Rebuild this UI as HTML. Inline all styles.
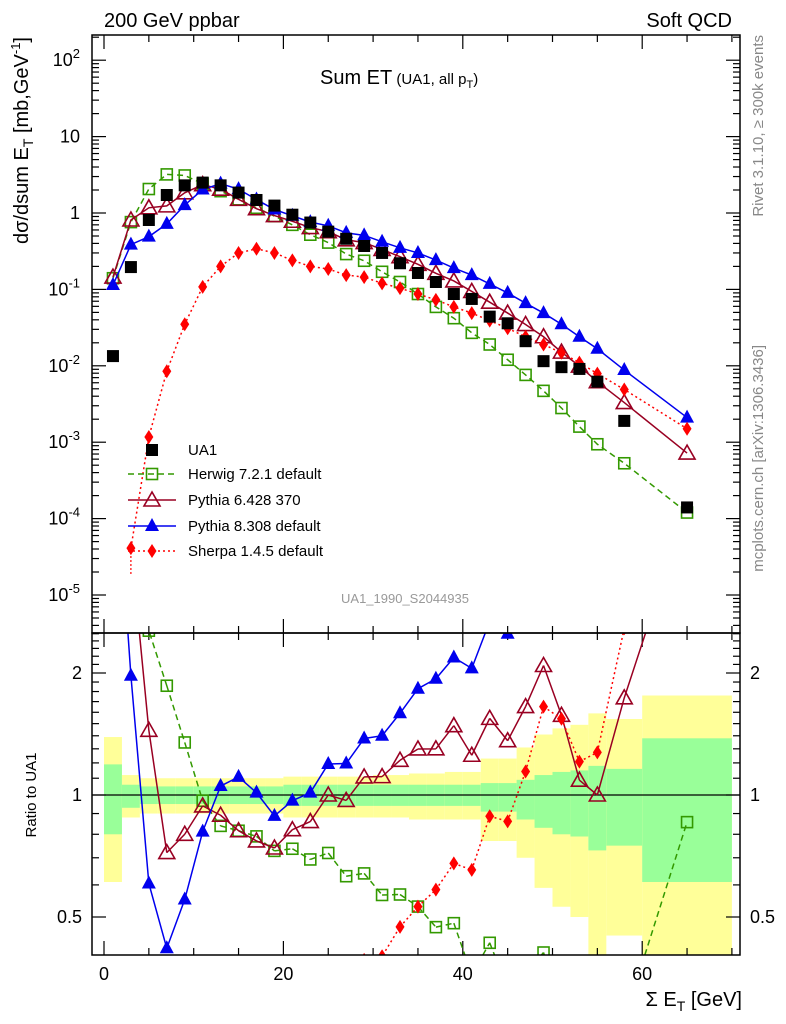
<!DOCTYPE html>
<html><head><meta charset="utf-8"><style>
html,body{margin:0;padding:0;background:#fff;width:786px;height:1024px;overflow:hidden;}
svg{display:block;font-family:"Liberation Sans",sans-serif;overflow:hidden;}
</style></head><body>
<svg id="chart" width="786" height="1024" viewBox="0 0 786 1024" xmlns="http://www.w3.org/2000/svg">
<defs>
<clipPath id="clipMain"><rect x="92" y="35" width="648" height="598"/></clipPath>
<clipPath id="clipRatio"><rect x="92" y="633" width="648" height="322"/></clipPath>
</defs>
<g id="bands" clip-path="url(#clipRatio)"></g>
<g id="ticks"></g>
<line x1="92" y1="795" x2="740" y2="795" stroke="#000" stroke-width="1.3"/>
<g id="mainMarks" clip-path="url(#clipMain)"></g>
<g id="ratioMarks" clip-path="url(#clipRatio)"></g>
<rect x="92" y="35" width="648" height="598" fill="none" stroke="#000" stroke-width="1.5"/>
<rect x="92" y="633" width="648" height="322" fill="none" stroke="#000" stroke-width="1.5"/>
<g id="labels" font-size="18"></g>
<text x="104" y="27" font-size="20">200 GeV ppbar</text>
<text x="732" y="27" font-size="20" text-anchor="end">Soft QCD</text>
<text x="320" y="84" font-size="20">Sum ET<tspan font-size="15"> (UA1, all p</tspan><tspan font-size="11" dy="4">T</tspan><tspan font-size="15" dy="-4">)</tspan></text>
<text transform="translate(28,37) rotate(-90)" font-size="20" text-anchor="end">dσ/dsum E<tspan font-size="14" dy="5">T</tspan><tspan dy="-5"> [mb,GeV</tspan><tspan font-size="13" dy="-8">-1</tspan><tspan dy="8">]</tspan></text>
<text transform="translate(36,795) rotate(-90)" font-size="15" text-anchor="middle">Ratio to UA1</text>
<text x="742" y="1006" font-size="20" text-anchor="end">Σ E<tspan font-size="14" dy="5">T</tspan><tspan dy="-5"> [GeV]</tspan></text>
<text transform="translate(763,35) rotate(-90)" font-size="15" fill="#888" text-anchor="end">Rivet 3.1.10, ≥ 300k events</text>
<text transform="translate(763,345) rotate(-90)" font-size="15" fill="#888" text-anchor="end">mcplots.cern.ch [arXiv:1306.3436]</text>
<text x="405" y="603" font-size="13" fill="#999" text-anchor="middle">UA1_1990_S2044935</text>
<line x1="130.9" y1="548" x2="130.9" y2="575" stroke="#ff0000" stroke-width="1.2" stroke-dasharray="2,2"/>
<g id="legend" font-size="15"></g>
</svg>
<script>
const xs = [1,3,5,7,9,11,13,15,17,19,21,23,25,27,29,31,33,35,37,39,41,43,45,47,49,51,53,55,58,65];
const ua1 = [0.0134,0.196,0.81,1.72,2.3,2.5,2.3,1.85,1.48,1.25,0.95,0.75,0.57,0.46,0.37,0.30,0.22,0.164,0.125,0.087,0.075,0.044,0.036,0.021,0.0115,0.0096,0.0091,0.0062,0.0019,0.00014];
const herwig = [0.14,0.76,2.06,3.2,3.1,2.42,1.93,1.51,1.17,0.91,0.70,0.52,0.41,0.29,0.237,0.17,0.125,0.087,0.059,0.042,0.027,0.019,0.012,0.0076,0.0047,0.0028,0.0016,0.00094,0.00053,0.00012];
const pythia6 = [0.145,0.81,1.17,1.24,1.84,2.35,2.05,1.51,1.14,0.925,0.78,0.645,0.57,0.446,0.41,0.333,0.268,0.213,0.1625,0.129,0.094,0.068,0.049,0.0347,0.024,0.0151,0.0099,0.0062,0.0033,0.00072];
const pythia8 = [0.114,0.386,0.49,0.72,1.27,2.03,2.42,2.05,1.5,1.11,0.92,0.76,0.68,0.55,0.51,0.42,0.35,0.30,0.242,0.19,0.154,0.118,0.090,0.066,0.049,0.035,0.024,0.0167,0.0088,0.0021];
const sherpa = [null,0.000041,0.00117,0.0085,0.035,0.108,0.20,0.30,0.34,0.30,0.24,0.20,0.185,0.154,0.145,0.12,0.104,0.087,0.073,0.059,0.049,0.039,0.031,0.024,0.019,0.0148,0.011,0.0079,0.0049,0.0015];
const bandEdges = [0,2,4,6,8,10,12,14,16,18,20,22,24,26,28,30,32,34,36,38,40,42,44,46,48,50,52,54,56,60,70];
const yelHi = [1.39,1.12,1.10,1.10,1.10,1.10,1.10,1.10,1.10,1.10,1.11,1.11,1.11,1.11,1.11,1.12,1.12,1.13,1.13,1.14,1.14,1.23,1.23,1.31,1.41,1.46,1.49,1.59,1.54,1.76];
const yelLo = [0.61,0.88,0.90,0.90,0.90,0.90,0.90,0.90,0.90,0.90,0.88,0.88,0.88,0.88,0.88,0.88,0.88,0.87,0.87,0.87,0.87,0.77,0.77,0.70,0.59,0.53,0.50,0.40,0.45,0.40];
const grnHi = [1.19,1.06,1.05,1.05,1.05,1.05,1.05,1.05,1.05,1.05,1.06,1.06,1.06,1.06,1.06,1.06,1.06,1.06,1.06,1.06,1.06,1.07,1.07,1.09,1.12,1.14,1.15,1.18,1.16,1.38];
const grnLo = [0.80,0.93,0.95,0.95,0.95,0.95,0.95,0.95,0.95,0.95,0.94,0.94,0.94,0.94,0.94,0.94,0.94,0.94,0.94,0.94,0.94,0.91,0.91,0.87,0.83,0.80,0.79,0.73,0.75,0.61];
const xTicks = [0,20,40,60];
const ratioTicks = [0.5,1,2];

const NS = "http://www.w3.org/2000/svg";
const RTOP=633, RBOT=955;
function X(v){return 104 + v*8.97;}
function YM(v){return 213 - 76.4*Math.log10(v);}
function YR(r){return 795 - 122*Math.log2(r);}
function mk(tag, attrs, parent){const e=document.createElementNS(NS,tag);for(const k in attrs)e.setAttribute(k,attrs[k]);parent.appendChild(e);return e;}
function clipSeg(x1,y1,x2,y2){
  if((y1<RTOP&&y2<RTOP)||(y1>RBOT&&y2>RBOT))return null;
  let t0=0,t1=1;const dy=y2-y1;
  if(dy!==0){
    const ta=(RTOP-y1)/dy, tb=(RBOT-y1)/dy;
    t0=Math.max(t0,Math.min(ta,tb));t1=Math.min(t1,Math.max(ta,tb));
  }
  if(t0>t1)return null;
  return [x1+(x2-x1)*t0,y1+dy*t0,x1+(x2-x1)*t1,y1+dy*t1];
}

const bands=document.getElementById('bands');
for(let i=0;i<yelHi.length;i++){
  const x0=X(bandEdges[i]), x1=X(bandEdges[i+1]);
  const yt=Math.max(RTOP,YR(yelHi[i])), yb=Math.min(RBOT,YR(yelLo[i]));
  const y=mk('rect',{x:x0,y:yt,width:x1-x0,height:yb-yt,fill:'#ffff99'},bands);
  
  
  const g=mk('rect',{x:x0,y:YR(grnHi[i]),width:x1-x0,height:YR(grnLo[i])-YR(grnHi[i]),fill:'#99ff99'},bands);
  
  
}

const tk=document.getElementById('ticks');
function tline(x1,y1,x2,y2){const l=mk('line',{x1:x1,y1:y1,x2:x2,y2:y2,stroke:'#000','stroke-width':1.2},tk);
  
  }
for(let v=0;v<=70;v+=5){const len=(v%20===0)?14:7;const x=X(v);
  tline(x,633,x,633-len);tline(x,35,x,35+len);tline(x,955,x,955-len);tline(x,633,x,633+len);}
for(let d=-6;d<=2;d++){for(let m=1;m<10;m++){const v=m*Math.pow(10,d);const y=YM(v);if(y<35||y>633)continue;const len=m===1?14:7;tline(92,y,92+len,y);tline(740,y,740-len,y);}}
for(let k=4;k<=25;k++){const r=k/10;const y=YR(r);if(y<633||y>955)continue;const maj=ratioTicks.some(t=>Math.abs(t-r)<1e-6);const len=maj?14:7;tline(92,y,92+len,y);tline(740,y,740-len,y);}

const lab=document.getElementById('labels');
xTicks.forEach(v=>{const t=mk('text',{x:X(v),y:980,'text-anchor':'middle'},lab);t.textContent=v;
  
  });
ratioTicks.forEach(r=>{const t=mk('text',{x:82,y:YR(r)+6,'text-anchor':'end'},lab);t.textContent=r;
  
  
  const t2=mk('text',{x:750,y:YR(r)+6},lab);t2.textContent=r;
  
  });
for(let d=-5;d<=2;d++){const y=YM(Math.pow(10,d));const t=mk('text',{x:80,y:y+6,'text-anchor':'end'},lab);
  
  
  if(d===0)t.textContent='1';else if(d===1)t.textContent='10';else{t.textContent='10';const s=mk('tspan',{dy:-8,'font-size':13},t);s.textContent=String(d);}}

const series=[
 {name:'herwig',vals:herwig,color:'#339900',dash:'6,4',marker:'osq'},
 {name:'pythia6',vals:pythia6,color:'#990022',dash:'none',marker:'otri'},
 {name:'pythia8',vals:pythia8,color:'#0000ee',dash:'none',marker:'tri'},
 {name:'sherpa',vals:sherpa,color:'#ff0000',dash:'2,3',marker:'dia'}
];
function marker(kind,x,y,color,parent){
  let e;
  if(kind==='sq') e=mk('rect',{x:x-6,y:y-6,width:12,height:12,fill:'#000'},parent);
  else if(kind==='osq') e=mk('rect',{x:x-5.5,y:y-5.5,width:11,height:11,fill:'none',stroke:color,'stroke-width':1.6},parent);
  else if(kind==='otri') e=mk('polygon',{points:x+','+(y-8)+' '+(x-8)+','+(y+6)+' '+(x+8)+','+(y+6),fill:'none',stroke:color,'stroke-width':1.6},parent);
  else if(kind==='tri') e=mk('polygon',{points:x+','+(y-8)+' '+(x-7)+','+(y+5)+' '+(x+7)+','+(y+5),fill:color},parent);
  else e=mk('polygon',{points:x+','+(y-7)+' '+(x-4.5)+','+y+' '+x+','+(y+7)+' '+(x+4.5)+','+y,fill:color},parent);
  return e;
}
const mm=document.getElementById('mainMarks'), rm=document.getElementById('ratioMarks');
series.forEach(s=>{
  const pts=[],rpts=[];
  s.vals.forEach((v,i)=>{if(v==null)return;pts.push([X(xs[i]),YM(v)]);rpts.push([X(xs[i]),YR(v/ua1[i])]);});
  const pl=mk('polyline',{points:pts.map(p=>p.join(',')).join(' '),fill:'none',stroke:s.color,'stroke-width':1.5,'stroke-dasharray':s.dash},mm);
  
  
  let d='';
  for(let i=0;i+1<rpts.length;i++){
    const c=clipSeg(rpts[i][0],rpts[i][1],rpts[i+1][0],rpts[i+1][1]);
    if(c)d+='M'+c[0].toFixed(2)+','+c[1].toFixed(2)+'L'+c[2].toFixed(2)+','+c[3].toFixed(2);
  }
  if(d){const rl=mk('path',{d:d,fill:'none',stroke:s.color,'stroke-width':1.5,'stroke-dasharray':s.dash},rm);
    
    }
  pts.forEach(p=>{const m=marker(s.marker,p[0],p[1],s.color,mm);
    
    });
  rpts.forEach(p=>{if(p[1]<RTOP-10||p[1]>RBOT+10)return;const m=marker(s.marker,p[0],p[1],s.color,rm);
    
    });
});
ua1.forEach((v,i)=>{const m=marker('sq',X(xs[i]),YM(v),'#000',mm);
  
  });

const lg=document.getElementById('legend');
const legendItems=[
 {label:'UA1',marker:'sq',color:'#000',dash:null,y:450},
 {label:'Herwig 7.2.1 default',marker:'osq',color:'#339900',dash:'6,4',y:474},
 {label:'Pythia 6.428 370',marker:'otri',color:'#990022',dash:'none',y:500},
 {label:'Pythia 8.308 default',marker:'tri',color:'#0000ee',dash:'none',y:526},
 {label:'Sherpa 1.4.5 default',marker:'dia',color:'#ff0000',dash:'2,3',y:551}
];
legendItems.forEach(it=>{
  if(it.dash!==null){const l=mk('line',{x1:128,y1:it.y,x2:176,y2:it.y,stroke:it.color,'stroke-width':1.5,'stroke-dasharray':it.dash},lg);
    
    }
  const m=marker(it.marker,152,it.y,it.color,lg);
  
  
  const t=mk('text',{x:188,y:it.y+5},lg);t.textContent=it.label;
  
  
});
</script>
</body></html>
